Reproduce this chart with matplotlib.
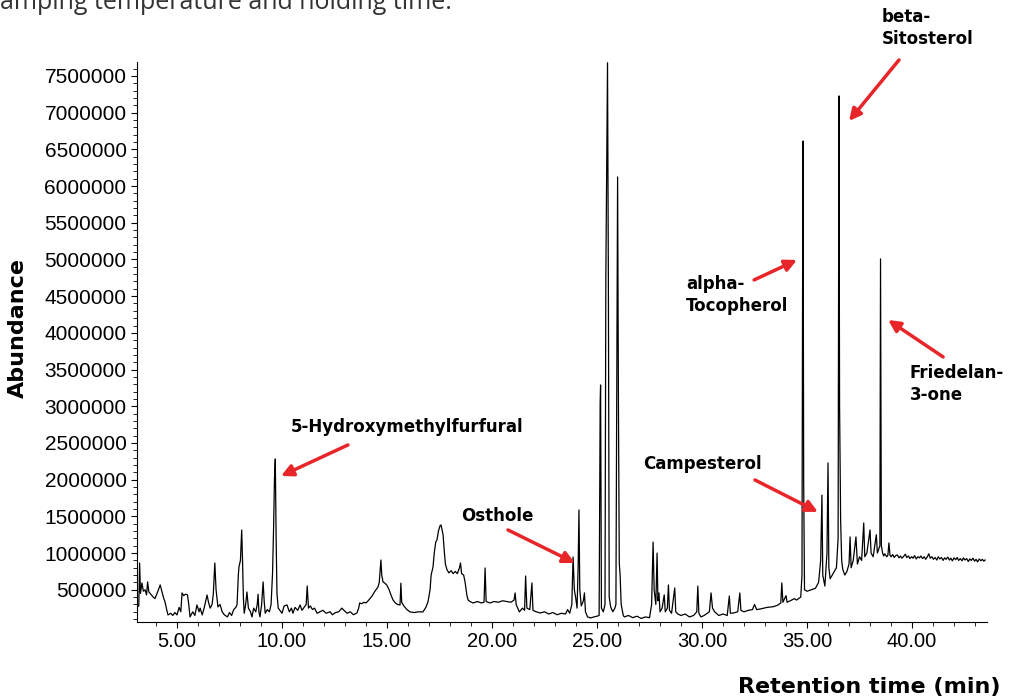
import numpy as np
from matplotlib import pyplot as plt
from matplotlib.ticker import MultipleLocator, FormatStrFormatter

rt_a = [3.10, 3.18, 3.22, 3.26, 3.33, 3.40, 3.48, 3.55, 3.60, 3.66, 3.75, 3.86, 3.95, 4.05, 4.20, 4.28,
        4.35, 4.43, 4.50, 4.57, 4.70, 4.80, 4.90, 5.00, 5.10, 5.18, 5.24, 5.32, 5.40, 5.50, 5.56, 5.62,
        5.75, 5.85, 5.95, 6.05, 6.10, 6.20, 6.30, 6.43, 6.50, 6.58, 6.67, 6.73, 6.80, 6.86, 6.95, 7.05,
        7.15, 7.25, 7.40, 7.50, 7.60, 7.70, 7.80, 7.86, 7.92, 7.95, 8.02, 8.08, 8.12, 8.16, 8.20, 8.27,
        8.33, 8.40, 8.50, 8.57, 8.65, 8.75, 8.82, 8.86, 8.90, 8.95, 9.03, 9.10, 9.15, 9.20, 9.30, 9.40,
        9.48, 9.55, 9.60, 9.64, 9.68, 9.72, 9.76, 9.82, 9.90, 10.00, 10.10, 10.24, 10.35, 10.45, 10.52,
        10.62, 10.75, 10.86, 10.95, 11.05, 11.15, 11.20, 11.26, 11.35, 11.45, 11.55, 11.67, 11.80, 11.95,
        12.10, 12.29, 12.40, 12.55, 12.70, 12.85, 12.95, 13.10, 13.25, 13.40, 13.57]
ab_a = [266000, 280000, 865000, 450000, 593000, 480000, 500000, 430000, 607000, 470000, 440000, 402000,
        380000, 450000, 566000, 480000, 400000, 334000, 240000, 157000, 180000, 150000, 190000, 157000,
        260000, 200000, 457000, 420000, 440000, 430000, 300000, 130000, 200000, 150000, 293000, 200000,
        250000, 157000, 260000, 429000, 330000, 250000, 300000, 450000, 865000, 500000, 266000, 300000,
        200000, 160000, 130000, 190000, 150000, 230000, 260000, 300000, 700000, 810000, 900000, 1315000,
        900000, 400000, 180000, 300000, 470000, 250000, 200000, 130000, 250000, 200000, 300000, 440000,
        200000, 130000, 300000, 607000, 350000, 180000, 230000, 200000, 300000, 730000, 1360000, 2000000,
        2282000, 1200000, 450000, 250000, 220000, 180000, 280000, 293000, 200000, 250000, 180000, 260000,
        220000, 293000, 220000, 260000, 300000, 552000, 250000, 280000, 230000, 250000, 180000, 200000,
        220000, 180000, 200000, 160000, 190000, 200000, 250000, 220000, 180000, 200000, 160000, 184000]

rt_b = [13.65, 13.70, 13.80, 13.90, 14.00, 14.10, 14.19, 14.30, 14.40, 14.50, 14.57, 14.63, 14.68, 14.71,
        14.75, 14.81, 14.90, 15.00, 15.10, 15.20, 15.29, 15.40, 15.50, 15.62, 15.66, 15.70, 15.80, 15.95,
        16.10, 16.30, 16.50, 16.71, 16.85, 16.95, 17.05, 17.10, 17.19, 17.25, 17.32, 17.38, 17.45, 17.52,
        17.57, 17.62, 17.67, 17.72, 17.78, 17.86, 17.95, 18.05, 18.15, 18.25, 18.35, 18.45, 18.50, 18.55,
        18.65, 18.72, 18.80, 18.86, 18.95, 19.10, 19.30, 19.50, 19.62, 19.67, 19.72, 19.90, 20.10, 20.30,
        20.50, 20.70, 20.90, 21.05, 21.10, 21.15, 21.30, 21.45, 21.55, 21.60, 21.66, 21.80, 21.90, 21.95,
        22.10, 22.30, 22.50, 22.70, 22.90, 23.10, 23.30, 23.50, 23.60, 23.70, 23.80, 23.86, 23.92, 23.98,
        24.05, 24.10, 24.14, 24.18, 24.25, 24.35, 24.40, 24.45, 24.55, 24.70, 24.85, 25.00]
ab_b = [250000, 320000, 310000, 330000, 320000, 350000, 380000, 420000, 470000, 510000, 538000, 600000,
        800000, 906000, 700000, 607000, 590000, 560000, 500000, 420000, 360000, 320000, 300000, 293000,
        590000, 330000, 280000, 230000, 198000, 190000, 200000, 198000, 260000, 334000, 500000, 700000,
        810000, 1000000, 1150000, 1180000, 1300000, 1370000, 1383000, 1320000, 1250000, 1050000, 850000,
        770000, 730000, 760000, 720000, 750000, 720000, 800000, 865000, 720000, 700000, 600000, 430000,
        361000, 340000, 320000, 340000, 320000, 330000, 797000, 340000, 320000, 340000, 330000, 350000,
        340000, 330000, 360000, 457000, 300000, 198000, 250000, 220000, 688000, 250000, 230000, 593000,
        220000, 200000, 184000, 200000, 170000, 190000, 160000, 180000, 170000, 230000, 180000, 300000,
        947000, 500000, 400000, 250000, 800000, 1587000, 500000, 280000, 350000, 457000, 200000, 130000,
        116000, 130000, 140000]

rt_c = [25.10, 25.15, 25.17, 25.21, 25.30, 25.38, 25.42, 25.46, 25.50, 25.54, 25.58, 25.65, 25.75, 25.85,
        25.90, 25.94, 25.98, 26.02, 26.06, 26.10, 26.15, 26.25, 26.30, 26.50, 26.70, 26.90, 27.10, 27.30,
        27.50, 27.60, 27.67, 27.72, 27.80, 27.86, 27.90, 27.95, 28.00, 28.10, 28.20, 28.25, 28.35, 28.40,
        28.45, 28.55, 28.70, 28.75, 28.85, 29.00, 29.20, 29.40, 29.60, 29.75, 29.80, 29.85, 29.95]
ab_c = [150000, 3060000, 3290000, 250000, 200000, 300000, 4760000, 6315000, 7680000, 4760000, 400000,
        266000, 200000, 250000, 300000, 3250000, 6124000, 3000000, 865000, 700000, 300000, 150000, 130000,
        150000, 120000, 140000, 110000, 130000, 120000, 300000, 1150000, 500000, 300000, 1000000, 350000,
        457000, 200000, 250000, 430000, 200000, 250000, 566000, 220000, 180000, 525000, 200000, 170000,
        150000, 170000, 130000, 150000, 200000, 550000, 180000, 130000]

rt_d = [30.10, 30.35, 30.43, 30.50, 30.60, 30.80, 31.00, 31.20, 31.30, 31.35, 31.50, 31.70, 31.80, 31.85,
        32.00, 32.20, 32.40, 32.50, 32.60, 32.80, 33.10, 33.40, 33.60, 33.75, 33.80, 33.85, 34.00, 34.05,
        34.20, 34.40, 34.50, 34.70, 34.76, 34.79, 34.81, 34.84, 34.88, 35.00, 35.20, 35.40, 35.55, 35.65,
        35.71, 35.75, 35.85, 35.95, 36.00, 36.04, 36.10, 36.20, 36.30, 36.40, 36.48, 36.50, 36.52, 36.55,
        36.60, 36.65, 36.70, 36.80, 36.90, 37.00, 37.05, 37.10, 37.20, 37.33, 37.40, 37.50, 37.60, 37.70,
        37.75, 37.85, 38.00, 38.05, 38.15, 38.30, 38.35, 38.47, 38.50, 38.54]
ab_d = [150000, 200000, 457000, 250000, 200000, 150000, 170000, 150000, 415000, 180000, 184000, 200000,
        457000, 220000, 200000, 220000, 230000, 300000, 230000, 240000, 260000, 270000, 290000, 320000,
        593000, 330000, 420000, 330000, 350000, 380000, 360000, 400000, 700000, 4857000, 6614000, 2000000,
        500000, 480000, 500000, 520000, 600000, 900000, 1790000, 700000, 550000, 1000000, 2228000, 800000,
        650000, 700000, 750000, 800000, 1200000, 4462000, 7228000, 3000000, 1450000, 900000, 780000, 700000,
        750000, 850000, 1220000, 800000, 900000, 1220000, 850000, 950000, 900000, 1410000, 950000, 1000000,
        1315000, 1000000, 950000, 1250000, 1000000, 1100000, 5007000, 1100000]

# plateau final (bruit de fond)
rt_e = [38.60, 38.65, 38.70, 38.80, 38.85, 38.90, 38.95, 39.00, 39.08, 39.15, 39.22, 39.30, 39.38, 39.45,
        39.52, 39.60, 39.68, 39.75, 39.83, 39.90, 39.98, 40.05, 40.12, 40.20, 40.28, 40.35, 40.42, 40.50,
        40.58, 40.65, 40.72, 40.80, 40.87, 40.95, 41.02, 41.10, 41.18, 41.25, 41.32, 41.40, 41.48, 41.55,
        41.62, 41.70, 41.78, 41.85, 41.92, 42.00, 42.08, 42.15, 42.22, 42.30, 42.38, 42.45, 42.52, 42.60,
        42.68, 42.75, 42.82, 42.90, 42.98, 43.05, 43.12, 43.20, 43.28, 43.35, 43.42, 43.48]
ab_e = [1000000, 960000, 990000, 950000, 970000, 1138000, 970000, 950000, 980000, 940000, 965000, 975000,
        935000, 960000, 930000, 955000, 985000, 940000, 960000, 925000, 950000, 930000, 965000, 920000,
        950000, 935000, 960000, 925000, 950000, 915000, 945000, 990000, 930000, 950000, 915000, 940000,
        905000, 950000, 920000, 940000, 900000, 935000, 915000, 945000, 905000, 930000, 895000, 935000,
        910000, 940000, 900000, 925000, 895000, 935000, 905000, 925000, 885000, 920000, 900000, 930000,
        890000, 915000, 880000, 920000, 895000, 915000, 890000, 906000]

rt = np.array(rt_a + rt_b + rt_c + rt_d + rt_e)
abondance = np.array(ab_a + ab_b + ab_c + ab_d + ab_e)

# composes identifies : texte, position du texte, queue et pointe de la fleche
noms = ['5-Hydroxymethylfurfural', 'Osthole', 'Campesterol', 'alpha-\nTocopherol',
        'beta-\nSitosterol', 'Friedelan-\n3-one']
pos_texte = [(10.43, 2718000), (18.52, 1506000), (27.19, 2214000), (29.24, 4516000),
             (38.57, 8154000), (39.90, 3304000)]
fleche_queue = [(13.14, 2473000), (20.76, 1315000), (32.52, 1996000), (32.48, 4721000),
                (39.38, 7718000), (41.48, 3672000)]
fleche_pointe = [(9.95, 2050000), (23.95, 865000), (35.52, 1560000), (34.52, 4993000),
                 (37.00, 6887000), (38.86, 4176000)]

fig = plt.figure(figsize=(10.1, 7.0), dpi=100)
ax = fig.add_axes([137/1010, 78/700, 850/1010, 560/700])

ax.plot(rt, abondance, color='black', lw=0.9)

ax.set_xlim(3.095, 43.57)
ax.set_ylim(61000, 7690000)
ax.spines['top'].set_visible(False)
ax.spines['right'].set_visible(False)

ax.xaxis.set_major_locator(MultipleLocator(5))
ax.xaxis.set_minor_locator(MultipleLocator(1))
ax.xaxis.set_major_formatter(FormatStrFormatter('%.2f'))
ax.set_yticks(np.arange(500000, 7500001, 500000))
ax.yaxis.set_minor_locator(MultipleLocator(100000))
ax.yaxis.set_major_formatter(FormatStrFormatter('%d'))
ax.tick_params(axis='both', which='major', length=4, width=0.8)
ax.tick_params(axis='both', which='minor', length=3, width=0.6)
for lab in ax.get_xticklabels():
    lab.set_fontfamily('Liberation Sans')
    lab.set_fontsize(14.5)
for lab in ax.get_yticklabels():
    lab.set_fontfamily('Liberation Sans')
    lab.set_fontsize(15)

rouge = '#e8262a'
for nom, pt, q, p in zip(noms, pos_texte, fleche_queue, fleche_pointe):
    ax.text(pt[0], pt[1], nom, fontsize=12, fontweight='bold', ha='left', va='center',
            linespacing=1.25, clip_on=False)
    ax.annotate('', xy=p, xytext=q, annotation_clip=False,
                arrowprops=dict(arrowstyle='-|>,head_length=0.7,head_width=0.35', color=rouge,
                                lw=2.5, shrinkA=0, shrinkB=0))

fig.text(18/1010, 1-328/700, 'Abundance', rotation=90, fontsize=16, fontweight='bold',
         ha='center', va='center')
fig.text(1000/1010, 1-687/700, 'Retention time (min)', fontsize=16, fontweight='bold',
         ha='right', va='center')
# legende coupee en haut de l'image
fig.text(0, 1-9/700, 'amping temperature and holding time.', fontsize=18, color='#333333',
         fontfamily='Open Sans', ha='left', va='baseline')

plt.savefig('out.png', dpi=100)
